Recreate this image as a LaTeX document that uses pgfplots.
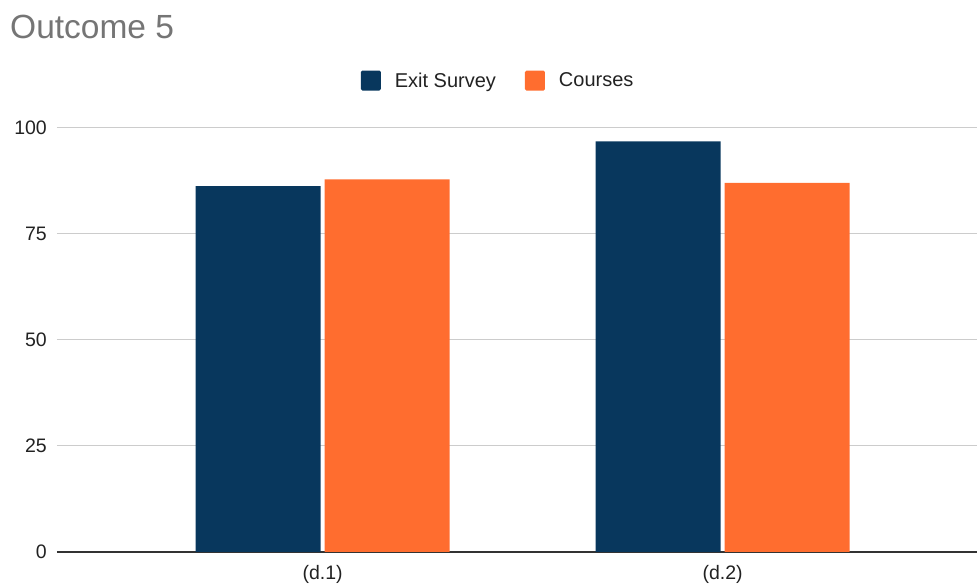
\documentclass[border=0pt]{standalone}
\usepackage{pgfplots}
\pgfplotsset{compat=1.18}
\usepackage{fontspec}
\setmainfont{Liberation Sans}
\definecolor{navy}{HTML}{08375D}
\definecolor{orng}{HTML}{FF6D2F}
\definecolor{gridc}{HTML}{CCCCCC}
\definecolor{basec}{HTML}{333333}
\definecolor{txt}{HTML}{222222}
\definecolor{ttl}{HTML}{757575}
\begin{document}
\begin{tikzpicture}[x=1bp,y=1bp]
\path[use as bounding box] (-57,-34) rectangle (920,552);
\node[anchor=west, text=ttl, font=\fontsize{33.5bp}{38bp}\selectfont, inner sep=0pt] at (-47,525) {Outcome 5};
\begin{axis}[
  at={(0,0)}, anchor=south west,
  scale only axis, width=920bp, height=424.3bp,
  xmin=-0.664, xmax=1.636, ymin=0, ymax=100,
  ybar, bar width=125bp,
  /pgf/number format/assume math mode=true,
  xtick={0,1}, xticklabels={(d.1),(d.2)},
  ytick={25,50,75,100},
  extra y ticks={0},
  extra y tick style={major grid style={color=basec, line width=1.8bp}},
  ymajorgrids, major grid style={color=gridc, line width=1bp},
  axis line style={draw=none},
  major tick length=0pt,
  tick label style={font=\fontsize{19.5bp}{23bp}\selectfont, text=txt, inner sep=0pt},
  yticklabel style={anchor=east, xshift=-10bp},
  xticklabel style={anchor=north, yshift=-13bp},
  legend columns=2,
  legend style={at={(0.4795,1.111)}, anchor=center, draw=none, fill=none,
    font=\fontsize{20bp}{24bp}\selectfont, text=txt, inner sep=0pt,
    /tikz/every even column/.append style={column sep=27bp}},
  legend cell align=left,
]
\addplot[fill=navy, draw=none, bar shift=-64.5bp,
  legend image code/.code={\fill[navy, rounded corners=1.5bp] (0bp,-10bp) rectangle (20bp,10bp); \path (32bp,0);}]
  coordinates {(0,86.2) (1,96.8)};
\addlegendentry{Exit Survey}
\addplot[fill=orng, draw=none, bar shift=64.5bp,
  legend image code/.code={\fill[orng, rounded corners=1.5bp] (0bp,-10bp) rectangle (20bp,10bp); \path (32bp,0);}]
  coordinates {(0,87.8) (1,87.0)};
\addlegendentry{Courses}
\end{axis}
\end{tikzpicture}
\end{document}
